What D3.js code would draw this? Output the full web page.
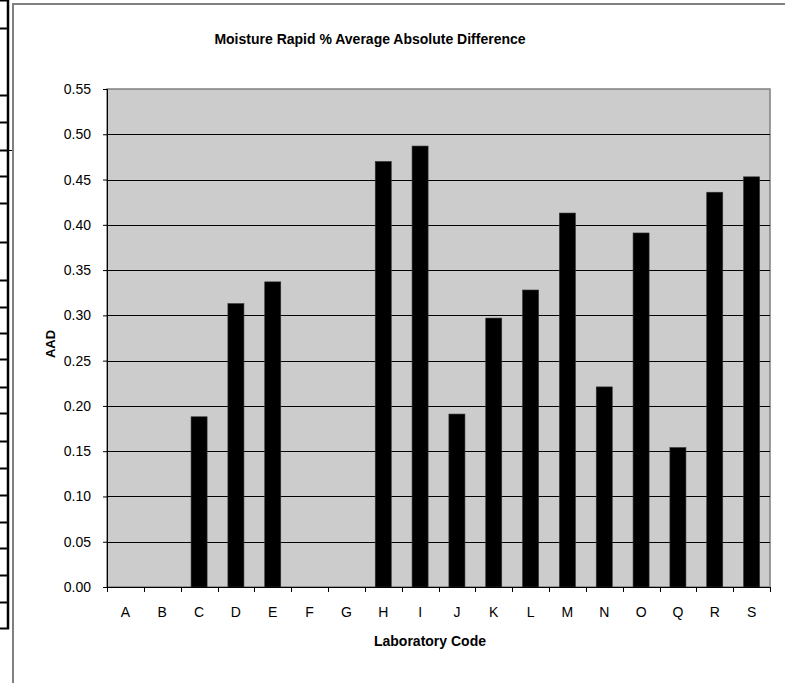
<!DOCTYPE html>
<html>
<head>
<meta charset="utf-8">
<script src="https://d3js.org/d3.v7.min.js"></script>
<style>
  body { margin: 0; background: #fff; }
  text { font-family: "Liberation Sans", Arial, sans-serif; }
</style>
</head>
<body>
<div id="chart"></div>
<script>
const labCodes = ['A', 'B', 'C', 'D', 'E', 'F', 'G', 'H', 'I', 'J', 'K', 'L', 'M', 'N', 'O', 'Q', 'R', 'S'];
const aadValues = [null, null, 0.188, 0.313, 0.337, null, null, 0.470, 0.487, 0.191, 0.297, 0.328, 0.413, 0.221, 0.391, 0.154, 0.436, 0.453];
const yTicks = [0, 0.05, 0.10, 0.15, 0.20, 0.25, 0.30, 0.35, 0.40, 0.45, 0.50, 0.55];

const W = 785, H = 683;
const plot = { left: 107, right: 770, top: 89, bottom: 587 };

const svg = d3.select('#chart').append('svg')
    .attr('width', W)
    .attr('height', H);

// spreadsheet cell edges showing at the left of the picture
const sheetRows = [0, 28, 95, 122, 150, 176, 203, 242, 280, 307, 333, 359, 387, 413, 441, 468, 495, 522, 548, 575, 602, 628];
svg.selectAll('.cell')
    .data(sheetRows)
    .enter().append('line')
    .attr('x1', 0).attr('x2', 9)
    .attr('y1', d => d + 0.5).attr('y2', d => d + 0.5)
    .attr('stroke', '#000').attr('stroke-width', 2);
svg.append('line')
    .attr('x1', 8).attr('x2', 8).attr('y1', 0).attr('y2', 629)
    .attr('stroke', '#000').attr('stroke-width', 2.5);
svg.append('line')
    .attr('x1', 8).attr('x2', 13).attr('y1', 150.5).attr('y2', 150.5)
    .attr('stroke', '#000').attr('stroke-width', 1);

// chart area border
svg.append('path')
    .attr('d', `M13,${H} L13,4 L${W},4`)
    .attr('fill', 'none')
    .attr('stroke', '#808080')
    .attr('stroke-width', 2);

const x = d3.scaleBand()
    .domain(labCodes)
    .range([plot.left, plot.right])
    .paddingInner(0.565)
    .paddingOuter(0.2825);

const y = d3.scaleLinear()
    .domain([0, 0.55])
    .range([plot.bottom, plot.top]);

// plot background
svg.append('rect')
    .attr('x', plot.left).attr('y', plot.top)
    .attr('width', plot.right - plot.left)
    .attr('height', plot.bottom - plot.top)
    .attr('fill', '#cccccc')
    .attr('stroke', '#808080')
    .attr('stroke-width', 1.5);

// gridlines
svg.selectAll('.grid')
    .data(yTicks.filter(t => t > 0 && t < 0.55))
    .enter().append('line')
    .attr('x1', plot.left).attr('x2', plot.right)
    .attr('y1', d => Math.round(y(d)) + 0.5)
    .attr('y2', d => Math.round(y(d)) + 0.5)
    .attr('stroke', '#000')
    .attr('stroke-width', 1);

// bars
const barData = labCodes.map((c, i) => ({ code: c, value: aadValues[i] })).filter(d => d.value != null);
svg.selectAll('.bar')
    .data(barData)
    .enter().append('rect')
    .attr('x', d => x(d.code))
    .attr('y', d => y(d.value))
    .attr('width', x.bandwidth())
    .attr('height', d => y(0) - y(d.value))
    .attr('fill', '#000')
    .attr('stroke', '#333')
    .attr('stroke-width', 0.6);

// y axis
const yAxis = d3.axisLeft(y)
    .tickValues(yTicks)
    .tickFormat(d3.format('.2f'))
    .tickSize(4)
    .tickPadding(12);
const yG = svg.append('g')
    .attr('transform', `translate(${plot.left},0)`)
    .call(yAxis);
yG.select('.domain').attr('stroke', '#000');
yG.selectAll('text').attr('font-size', 14).attr('fill', '#000')
    .style('font-family', '"Liberation Sans", Arial, sans-serif');

// x axis: ticks on band boundaries
svg.append('line')
    .attr('x1', plot.left).attr('x2', plot.right)
    .attr('y1', plot.bottom + 0.5).attr('y2', plot.bottom + 0.5)
    .attr('stroke', '#000');
const bounds = labCodes.map(c => x(c) - x.step() * x.paddingInner() / 2).concat([plot.right]);
svg.selectAll('.xtick')
    .data(bounds)
    .enter().append('line')
    .attr('x1', d => Math.round(d) + 0.5).attr('x2', d => Math.round(d) + 0.5)
    .attr('y1', plot.bottom).attr('y2', plot.bottom + 5)
    .attr('stroke', '#000');
svg.selectAll('.xlabel')
    .data(labCodes)
    .enter().append('text')
    .attr('x', d => x(d) + x.bandwidth() / 2)
    .attr('y', 617)
    .attr('text-anchor', 'middle')
    .attr('font-size', 14)
    .text(d => d);

// titles
svg.append('text')
    .attr('x', 370).attr('y', 44)
    .attr('text-anchor', 'middle')
    .attr('font-size', 14)
    .attr('font-weight', 'bold')
    .text('Moisture Rapid % Average Absolute Difference');

svg.append('text')
    .attr('x', 430).attr('y', 646)
    .attr('text-anchor', 'middle')
    .attr('font-size', 14)
    .attr('font-weight', 'bold')
    .text('Laboratory Code');

svg.append('text')
    .attr('transform', 'translate(55,344) rotate(-90)')
    .attr('text-anchor', 'middle')
    .attr('font-size', 13)
    .attr('font-weight', 'bold')
    .text('AAD');
</script>
</body>
</html>
